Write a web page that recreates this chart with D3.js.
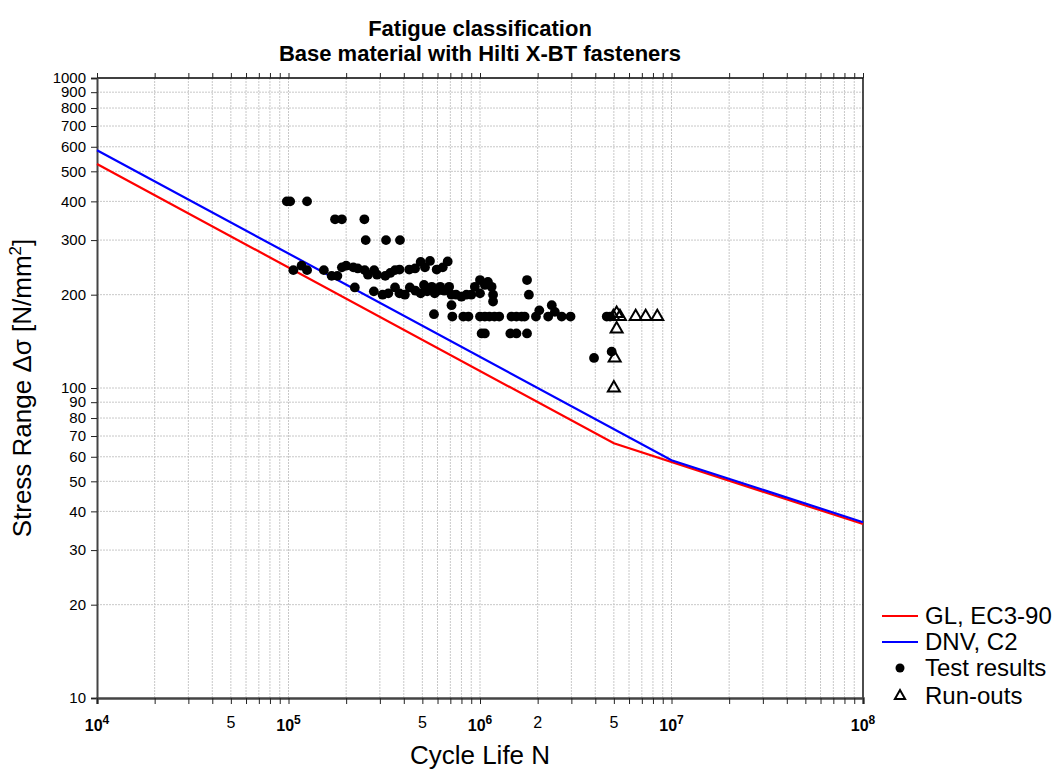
<!DOCTYPE html>
<html><head><meta charset="utf-8">
<script src="https://cdn.jsdelivr.net/npm/d3@7"></script>
<style>body{margin:0;background:#fff;font-family:Arial,"Liberation Sans",sans-serif}</style>
</head><body><svg id="c" width="1063" height="769"></svg>
<script>
// ---- data ----
const glN = [1e4, 5e6, 1e8];
const glS = [528, 66.3, 36.4];
const dnvN = [1e4, 1e7, 1e8];
const dnvS = [585, 58.5, 36.9];
const testN = [9.8e4,1.02e5,1.25e5, 1.75e5,1.9e5,2.49e5, 2.53e5,3.23e5,3.82e5,
 1.06e5,1.17e5,1.25e5,1.53e5,1.68e5,1.8e5,1.9e5,2.0e5,2.18e5,2.3e5,2.5e5,2.6e5,2.8e5,2.9e5,3.2e5,3.4e5,3.6e5,3.8e5,4.27e5,4.58e5,4.9e5,5.16e5,5.48e5,5.94e5,6.39e5,6.78e5,
 2.22e5,2.79e5,3.1e5,3.32e5,3.6e5,3.8e5,4.05e5,4.3e5,4.6e5,4.9e5,5.1e5,5.3e5,5.6e5,5.8e5,6.0e5,6.2e5,6.5e5,6.9e5,7.1e5,7.5e5,8.0e5,8.5e5,9.0e5,
 7.1e5,5.75e5,
 7.17e5,8.18e5,8.7e5,1.0e6,1.06e6,1.12e6,1.19e6,1.26e6,1.46e6,1.55e6,1.65e6,1.71e6,1.96e6,2.27e6,2.67e6,2.97e6,4.59e6,4.78e6,
 2.04e6,2.37e6,2.46e6,
 1.02e6,1.06e6,1.44e6,1.55e6,1.76e6,
 9.4e5,1.0e6,1.06e6,1.1e6,1.15e6,1.0e6,1.17e6,1.17e6,
 1.76e6,1.8e6, 3.94e6,4.87e6];
const testS = [400,400,400, 350,350,350, 300,300,300,
 240,248,240,240,230,230,245,248,245,243,240,232,240,232,230,235,240,241,241,243,255,245,257,241,245,256,
 211,205,200,202,211,202,200,211,206,202,215,205,212,202,206,212,206,212,200,200,197,200,200,
 185,173,
 170,170,170,170,170,170,170,170,170,170,170,170,170,170,170,170,170,170,
 178,185,176,
 150,150,150,150,150,
 212,223,215,220,212,202,200,190,
 223,200, 125,131];
const runN = [4.97e6,5.17e6,5.38e6,5.17e6,5.05e6,5.0e6,6.5e6,7.33e6,8.43e6];
const runS = [170,174,170,155,125,100,170,170,170];
const yTicks = [10,20,30,40,50,60,70,80,90,100,200,300,400,500,600,700,800,900,1000];
const xDecades = [1e4,1e5,1e6,1e7,1e8];
const xMinorLabels = [[5e4,"5"],[5e5,"5"],[2e6,"2"],[5e6,"5"]];
const legendItems = ["GL, EC3-90","DNV, C2","Test results","Run-outs"];

// ---- chart ----
const svg = d3.select("#c");
const x = d3.scaleLog().domain([1e4,1e8]).range([97,863]);
const y = d3.scaleLog().domain([10,1000]).range([698,78]);
const font = "Arial, 'Liberation Sans', sans-serif";

const minorX = [];
for (let d=1e4; d<1e8; d*=10) for (let k=1;k<10;k++) minorX.push(d*k);
minorX.push(1e8);
const minorY = [];
for (let d=10; d<1000; d*=10) for (let k=1;k<10;k++) minorY.push(d*k);
minorY.push(1000);

const grid = svg.append("g");
grid.selectAll(".gx").data(minorX.slice(1,-1)).join("line")
  .attr("x1",d=>x(d)).attr("x2",d=>x(d)).attr("y1",y(1000)).attr("y2",y(10))
  .attr("stroke","#c8c8c8").attr("stroke-width",1).attr("stroke-dasharray","2,1");
grid.selectAll(".gy").data(minorY.slice(1,-1)).join("line")
  .attr("y1",d=>y(d)).attr("y2",d=>y(d)).attr("x1",x(1e4)).attr("x2",x(1e8))
  .attr("stroke","#c8c8c8").attr("stroke-width",1).attr("stroke-dasharray","2,1");

// frame
svg.append("line").attr("x1",x(1e4)).attr("x2",x(1e8)).attr("y1",y(1000)).attr("y2",y(1000)).attr("stroke","#000").attr("stroke-width",1.4);
svg.append("line").attr("x1",x(1e8)).attr("x2",x(1e8)).attr("y1",y(1000)).attr("y2",y(10)).attr("stroke","#000").attr("stroke-width",1.4);

// axes
const yAxis = d3.axisLeft(y).tickValues(yTicks).tickFormat(d3.format("d")).tickSize(6).tickPadding(5);
const gy = svg.append("g").attr("transform",`translate(${x(1e4)},0)`).call(yAxis);
gy.select(".domain").attr("stroke","#444").attr("stroke-width",2);
gy.selectAll(".tick line").attr("stroke","#222");
gy.selectAll("text").attr("font-size",15).attr("font-family",font).attr("fill","#000");

const xAxis = d3.axisBottom(x).tickValues(minorX).tickFormat("").tickSize(6);
const gx = svg.append("g").attr("transform",`translate(0,${y(10)})`).call(xAxis);
gx.select(".domain").attr("stroke","#444").attr("stroke-width",2.5);
gx.selectAll(".tick line").attr("stroke","#222");

const xTop = d3.axisTop(x).tickValues(minorX).tickFormat("").tickSize(5);
const gt = svg.append("g").attr("transform",`translate(0,${y(1000)})`).call(xTop);
gt.select(".domain").remove();
gt.selectAll(".tick line").attr("stroke","#222");

// x labels
const xl = svg.append("g").attr("font-family",font).attr("font-size",16);
xDecades.forEach(d=>{
  const t = xl.append("text").attr("x",x(d)).attr("y",y(10)+33).attr("text-anchor","middle").attr("font-weight","bold");
  t.append("tspan").text("10");
  t.append("tspan").attr("dy",-7).attr("font-size",12).text(Math.round(Math.log10(d)));
});
xMinorLabels.forEach(([v,s])=>{
  xl.append("text").attr("x",x(v)).attr("y",y(10)+30).attr("text-anchor","middle").text(s);
});

// lines
const line = d3.line().x(d=>x(d[0])).y(d=>y(d[1]));
svg.append("path").datum(glN.map((n,i)=>[n,glS[i]])).attr("d",line).attr("fill","none").attr("stroke","#ff0000").attr("stroke-width",2.2);
svg.append("path").datum(dnvN.map((n,i)=>[n,dnvS[i]])).attr("d",line).attr("fill","none").attr("stroke","#0000ff").attr("stroke-width",2.2);

// points
svg.append("g").selectAll("circle").data(testN.map((n,i)=>[n,testS[i]])).join("circle")
  .attr("cx",d=>x(d[0])).attr("cy",d=>y(d[1])).attr("r",4.9).attr("fill","#000");
const tri = d3.symbol().type(d3.symbolTriangle).size(62);
svg.append("g").selectAll("path").data(runN.map((n,i)=>[n,runS[i]])).join("path")
  .attr("d",tri).attr("transform",d=>`translate(${x(d[0])},${y(d[1])})`)
  .attr("fill","none").attr("stroke","#000").attr("stroke-width",2);

// titles
svg.append("text").attr("x",480).attr("y",36).attr("text-anchor","middle").attr("font-family",font).attr("font-weight","bold").attr("font-size",22).text("Fatigue classification");
svg.append("text").attr("x",480).attr("y",61).attr("text-anchor","middle").attr("font-family",font).attr("font-weight","bold").attr("font-size",22).text("Base material with Hilti X-BT fasteners");
svg.append("text").attr("x",480).attr("y",764).attr("text-anchor","middle").attr("font-family",font).attr("font-size",26).text("Cycle Life N");
const yl = svg.append("text").attr("transform","translate(31,388) rotate(-90)").attr("text-anchor","middle").attr("font-family",font).attr("font-size",26);
yl.append("tspan").text("Stress Range \u0394\u03c3 [N/mm");
yl.append("tspan").attr("dy",-10).attr("font-size",17).text("2");
yl.append("tspan").attr("dy",10).text("]");

// legend
const lg = svg.append("g").attr("font-family",font).attr("font-size",24);
const ly = [616,642,668,696];
lg.append("line").attr("x1",882).attr("x2",918).attr("y1",ly[0]).attr("y2",ly[0]).attr("stroke","#ff0000").attr("stroke-width",2.2);
lg.append("line").attr("x1",882).attr("x2",918).attr("y1",ly[1]).attr("y2",ly[1]).attr("stroke","#0000ff").attr("stroke-width",2.2);
lg.append("circle").attr("cx",900).attr("cy",ly[2]).attr("r",4.5).attr("fill","#000");
lg.append("path").attr("d",d3.symbol().type(d3.symbolTriangle).size(45)).attr("transform",`translate(900,${ly[3]})`).attr("fill","none").attr("stroke","#000").attr("stroke-width",2);
legendItems.forEach((t,i)=>lg.append("text").attr("x",925).attr("y",ly[i]).attr("dy","0.35em").text(t));
</script></body></html>
